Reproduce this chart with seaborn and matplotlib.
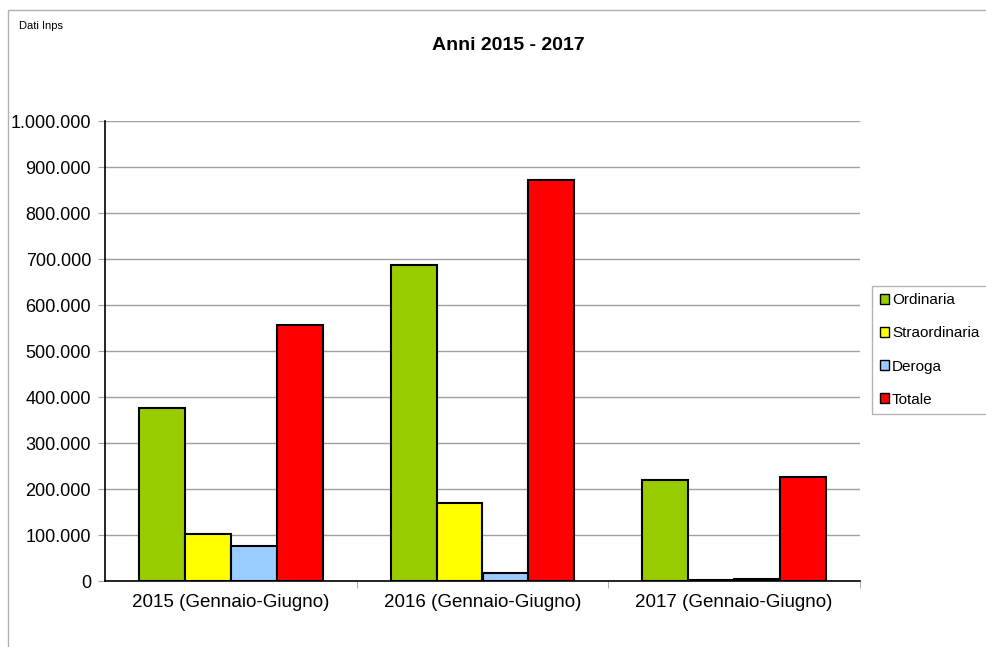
import matplotlib
matplotlib.use('Agg')
import matplotlib.pyplot as plt
from matplotlib.patches import Rectangle
from matplotlib.ticker import FuncFormatter, FixedLocator
import pandas as pd
import seaborn as sns

periods = ["2015 (Gennaio-Giugno)", "2016 (Gennaio-Giugno)", "2017 (Gennaio-Giugno)"]
series = ["Ordinaria", "Straordinaria", "Deroga", "Totale"]
ordinaria = [376000, 686000, 219000]
straordinaria = [102000, 170000, 3000]
deroga = [76000, 17000, 5000]
totale = [556000, 872000, 226000]
colors = ["#99CC00", "#FFFF00", "#99CCFF", "#FF0000"]

rows = []
for name, vals in zip(series, [ordinaria, straordinaria, deroga, totale]):
    for p, v in zip(periods, vals):
        rows.append([p, name, v])
df = pd.DataFrame(rows, columns=["periodo", "tipo", "valore"])

sns.set_style("white")
plt.rcParams['font.family'] = ['Liberation Sans', 'DejaVu Sans']
plt.rcParams['text.color'] = 'black'
plt.rcParams['xtick.color'] = 'black'
plt.rcParams['ytick.color'] = 'black'

fig = plt.figure(figsize=(9.87, 6.47), dpi=100)
ax = fig.add_axes([105/987, 1-581/647, (860-105)/987, (581-121)/647])

sns.barplot(data=df, x="periodo", y="valore", hue="tipo", palette=colors, saturation=1,
            width=0.73, gap=0, edgecolor="black", linewidth=1.5, ax=ax, zorder=3)

ax.set_ylim(0, 1000000)
ax.set_xlim(-0.5, 2.5)
ax.yaxis.set_major_locator(FixedLocator(range(0, 1000001, 100000)))
ax.yaxis.set_major_formatter(FuncFormatter(lambda v, p: f"{int(v):,}".replace(",", ".")))
ax.yaxis.grid(True, color="#A0A0A0", linewidth=1, zorder=0)
ax.set_axisbelow(True)
ax.set_xlabel("")
ax.set_ylabel("")
for s in ["top", "right"]:
    ax.spines[s].set_visible(False)
for s in ["left", "bottom"]:
    ax.spines[s].set_color("black")
    ax.spines[s].set_linewidth(1.2)
ax.tick_params(axis="y", left=True, length=5, color="#A0A0A0", labelcolor="black", labelsize=13, pad=5)
ax.tick_params(axis="x", bottom=False, labelcolor="black", labelsize=13.5, pad=6)
ax.xaxis.set_minor_locator(FixedLocator([0.5, 1.5, 2.5]))
ax.tick_params(axis="x", which="minor", bottom=True, length=5, color="#A0A0A0")

leg = ax.legend(loc="center left", bbox_to_anchor=(872/987, 1-350/647), bbox_transform=fig.transFigure,
                frameon=True, fancybox=False, edgecolor="#A0A0A0", fontsize=11,
                handlelength=0.6, handleheight=0.6, handletextpad=0.2, labelspacing=1.25,
                borderpad=0.5, borderaxespad=0)
for h in leg.legend_handles:
    h.set_edgecolor("black")
    h.set_linewidth(1.0)
for t in leg.get_texts():
    t.set_color("black")

fig.patches.append(Rectangle((8/987, -0.01), 1.0, 1 - 10/647 + 0.01, transform=fig.transFigure,
                             fill=False, edgecolor="#B0B0B0", linewidth=1))
fig.text(19/987, 1-29/647, "Dati Inps", fontsize=8)
fig.text(508/987, 1-46/647, "Anni 2015 - 2017", fontsize=14, fontweight="bold", ha="center", va="center")

fig.savefig("out.png", dpi=100)
